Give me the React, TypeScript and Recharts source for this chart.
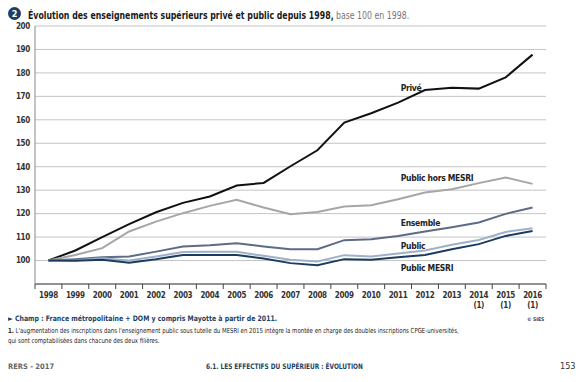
import { CartesianGrid, Line, LineChart, ReferenceDot, XAxis, YAxis } from "recharts";

const FONT = "'Liberation Sans Narrow', 'DejaVu Sans Condensed', 'Roboto', sans-serif";

const YEARS = [1998, 1999, 2000, 2001, 2002, 2003, 2004, 2005, 2006, 2007, 2008, 2009, 2010, 2011, 2012, 2013, 2014, 2015, 2016];
const FOOTNOTED_YEARS = [2014, 2015, 2016];
const Y_TICKS = [100, 110, 120, 130, 140, 150, 160, 170, 180, 190, 200];

const PRIVE = [100, 104.3, 110, 115.5, 120.6, 124.6, 127.3, 132, 133.1, 140.2, 147, 158.8, 162.8, 167.3, 172.7, 173.7, 173.3, 178.1, 187.8];
const PUBLIC_HORS_MESRI = [100, 102.4, 105.3, 112.4, 116.6, 120.2, 123.3, 125.9, 122.6, 119.7, 120.7, 123, 123.6, 126.1, 129, 130.4, 133, 135.4, 132.7];
const ENSEMBLE = [100, 100.6, 101.4, 101.7, 103.8, 106, 106.5, 107.4, 106, 104.8, 104.8, 108.7, 109.1, 110.5, 112.4, 114.2, 116.2, 119.9, 122.6];
const PUBLIC = [100, 100, 101, 100, 101.7, 103.6, 103.7, 103.7, 102, 100.3, 99.6, 102.3, 101.7, 103, 104.3, 106.7, 108.8, 112.2, 113.8];
const PUBLIC_MESRI = [100, 99.9, 100.3, 99.1, 100.6, 102.4, 102.4, 102.4, 100.9, 98.9, 98, 100.6, 100.3, 101.4, 102.4, 104.8, 107, 110.5, 112.6];

const SERIES = [
  { key: "prive", label: "Privé", values: PRIVE, color: "#111111", labelAt: [2011.1, 173.7] },
  { key: "horsMesri", label: "Public hors MESRI", values: PUBLIC_HORS_MESRI, color: "#a6a6a6", labelAt: [2011.1, 135.3] },
  { key: "ensemble", label: "Ensemble", values: ENSEMBLE, color: "#5c6b86", labelAt: [2011.1, 116.1] },
  { key: "public", label: "Public", values: PUBLIC, color: "#9fb0c8", labelAt: [2011.1, 106.2] },
  { key: "publicMesri", label: "Public MESRI", values: PUBLIC_MESRI, color: "#1c3c5e", labelAt: [2011.1, 96.8] },
];

const data = YEARS.map((year, i) => {
  const row: Record<string, number> = { year };
  SERIES.forEach((s) => (row[s.key] = s.values[i]));
  return row;
});

// labels sit on the years, tick marks sit between them
const X_TICKS = [...YEARS.flatMap((y) => [y - 0.5, y]), YEARS[YEARS.length - 1] + 0.5];

function XTick({ x, y, payload }: any) {
  const v = payload.value as number;
  if (!Number.isInteger(v)) {
    return <line x1={x} x2={x} y1={y - 5} y2={y} stroke="#444" strokeWidth={1} />;
  }
  return (
    <text x={x} y={y + 9} textAnchor="middle" fontSize={8} fontWeight={700} fill="#333" fontFamily={FONT} letterSpacing={-0.3}>
      <tspan x={x}>{v}</tspan>
      {FOOTNOTED_YEARS.includes(v) && (
        <tspan x={x} dy={10}>
          (1)
        </tspan>
      )}
    </text>
  );
}

function SeriesLabel({ cx, cy, text }: any) {
  return (
    <text x={cx} y={cy} dominantBaseline="central" fontSize={8.5} fontWeight={700} fill="#222" fontFamily={FONT} letterSpacing={-0.3}>
      {text}
    </text>
  );
}

const narrow = (k: number): React.CSSProperties => ({ transform: `scaleX(${k})`, transformOrigin: "left center", whiteSpace: "nowrap" });

export default function App() {
  return (
    <div style={{ position: "absolute", left: 0, top: 0, width: 587, height: 382, background: "#fff", fontFamily: FONT, overflow: "hidden" }}>
      <div style={{ position: "absolute", left: 8, top: 4, display: "flex", alignItems: "center", whiteSpace: "nowrap" }}>
        <span
          style={{
            width: 13,
            height: 13,
            borderRadius: "50%",
            background: "#1d3f66",
            color: "#fff",
            fontSize: 9,
            fontWeight: 700,
            display: "inline-flex",
            alignItems: "center",
            justifyContent: "center",
            marginRight: 7,
          }}
        >
          2
        </span>
        <div style={narrow(0.79)}>
          <span style={{ fontSize: 11, fontWeight: 700, color: "#1a1a1a" }}>
            Évolution des enseignements supérieurs privé et public depuis 1998,
          </span>
          <span style={{ fontSize: 11, color: "#777", marginLeft: 3 }}>base 100 en 1998.</span>
        </div>
      </div>

      <div style={{ position: "absolute", left: 0, top: 0 }}>
        <LineChart width={587} height={320} data={data} margin={{ top: 26, right: 41, bottom: 6, left: 5 }}>
          <CartesianGrid horizontal vertical={false} stroke="#c4c4c4" strokeWidth={1} />
          <XAxis
            dataKey="year"
            type="number"
            domain={[YEARS[0] - 0.5, YEARS[YEARS.length - 1] + 0.5]}
            ticks={X_TICKS}
            interval={0}
            height={30}
            tickSize={5}
            tickMargin={0}
            tickLine={false}
            axisLine={{ stroke: "#444" }}
            tick={<XTick />}
          />
          <YAxis
            domain={[90, 200]}
            ticks={Y_TICKS}
            interval={0}
            width={30}
            tickSize={0}
            tickMargin={5}
            tickLine={false}
            axisLine={{ stroke: "#888" }}
            tick={{ fontSize: 8, fontWeight: 700, fill: "#333", fontFamily: FONT, letterSpacing: -0.3 }}
          />
          {SERIES.map((s) => (
            <Line
              key={s.key}
              dataKey={s.key}
              type="linear"
              stroke={s.color}
              strokeWidth={2}
              dot={false}
              activeDot={false}
              isAnimationActive={false}
            />
          ))}
          {SERIES.map((s) => (
            <ReferenceDot
              key={s.key + "-label"}
              x={s.labelAt[0]}
              y={s.labelAt[1]}
              r={0}
              shape={(p: any) => <SeriesLabel cx={p.cx} cy={p.cy} text={s.label} />}
            />
          ))}
        </LineChart>
      </div>

      <div style={{ position: "absolute", left: 8, top: 314, fontSize: 7.5, fontWeight: 700, color: "#1d3f66", ...narrow(0.92) }}>
        ► Champ : France métropolitaine + DOM y compris Mayotte à partir de 2011.
      </div>
      <div style={{ position: "absolute", left: 527, top: 316, fontSize: 5, fontWeight: 700, color: "#1d3f66" }}>© SIES</div>
      <div style={{ position: "absolute", left: 8, top: 326, fontSize: 7, color: "#222", lineHeight: "10px", ...narrow(0.86) }}>
        <b>1.</b> L'augmentation des inscriptions dans l'enseignement public sous tutelle du MESRI en 2015 intègre la montée en charge des doubles inscriptions CPGE-universités,
        <br />
        qui sont comptabilisées dans chacune des deux filières.
      </div>

      <div style={{ position: "absolute", left: 8, top: 362, fontSize: 7.5, fontWeight: 700, color: "#666", whiteSpace: "nowrap" }}>RERS - 2017</div>
      <div style={{ position: "absolute", left: 206, top: 362, fontSize: 7.5, fontWeight: 700, color: "#1d3f66", ...narrow(0.86) }}>
        6.1. LES EFFECTIFS DU SUPÉRIEUR : ÉVOLUTION
      </div>
      <div style={{ position: "absolute", left: 560, top: 361, fontSize: 9, color: "#333" }}>153</div>
    </div>
  );
}
